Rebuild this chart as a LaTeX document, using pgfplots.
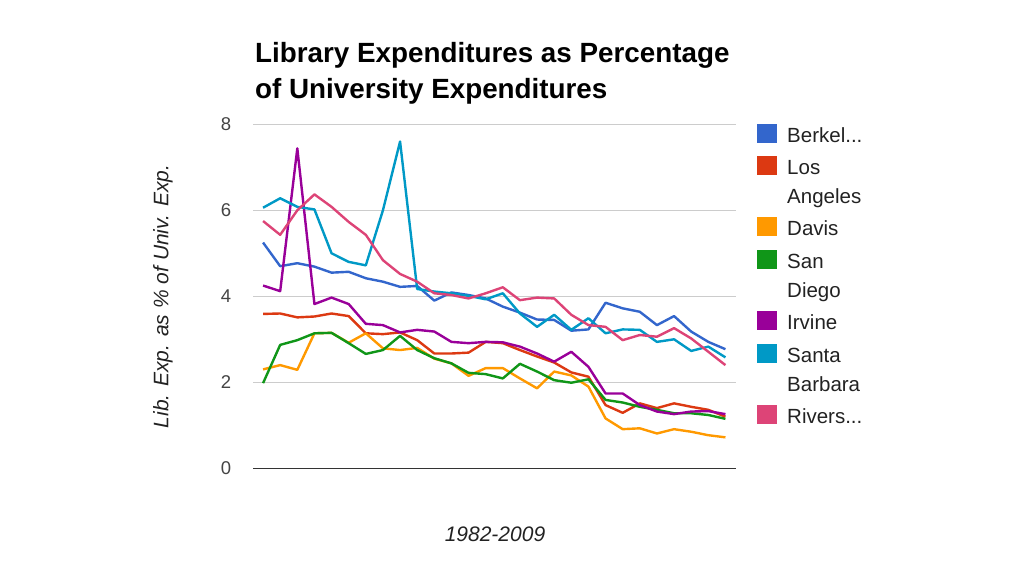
\documentclass[border=0pt]{standalone}
\usepackage{fontspec}
\setmainfont{Liberation Sans}
\usepackage{pgfplots}
\pgfplotsset{compat=1.18}
\usepackage{pgfplotstable}
\definecolor{cBer}{HTML}{3366CC}
\definecolor{cLA}{HTML}{DC3912}
\definecolor{cDav}{HTML}{FF9900}
\definecolor{cSD}{HTML}{109618}
\definecolor{cIrv}{HTML}{990099}
\definecolor{cSB}{HTML}{0099C6}
\definecolor{cRiv}{HTML}{DD4477}
\definecolor{tickgray}{HTML}{444444}
\definecolor{labgray}{HTML}{222222}
\pgfplotstableread{
i ber la dav sd irv sb riv
0 5.25 3.59 2.30 1.98 4.25 6.06 5.75
1 4.70 3.60 2.40 2.87 4.12 6.28 5.43
2 4.77 3.51 2.29 2.98 7.44 6.08 6.00
3 4.69 3.53 3.14 3.14 3.82 6.02 6.37
4 4.55 3.60 3.15 3.15 3.97 5.00 6.08
5 4.57 3.54 2.92 2.91 3.82 4.80 5.73
6 4.42 3.14 3.14 2.66 3.36 4.72 5.43
7 4.34 3.12 2.79 2.75 3.33 6.00 4.84
8 4.22 3.16 2.75 3.08 3.16 7.60 4.52
9 4.24 2.98 2.80 2.75 3.22 4.17 4.34
10 3.90 2.67 2.55 2.56 3.18 4.11 4.07
11 4.09 2.67 2.44 2.44 2.94 4.07 4.03
12 4.03 2.69 2.15 2.22 2.91 4.01 3.95
13 3.95 2.94 2.33 2.19 2.94 3.93 4.07
14 3.76 2.91 2.33 2.09 2.93 4.07 4.21
15 3.62 2.75 2.09 2.43 2.83 3.60 3.91
16 3.46 2.60 1.86 2.25 2.67 3.29 3.97
17 3.45 2.46 2.25 2.05 2.48 3.57 3.95
18 3.20 2.23 2.16 1.99 2.71 3.22 3.57
19 3.23 2.13 1.90 2.07 2.36 3.49 3.33
20 3.85 1.47 1.16 1.59 1.74 3.14 3.29
21 3.72 1.29 0.91 1.53 1.74 3.23 2.98
22 3.64 1.51 0.93 1.43 1.47 3.22 3.10
23 3.33 1.40 0.81 1.36 1.32 2.94 3.06
24 3.54 1.51 0.91 1.28 1.26 3.00 3.26
25 3.18 1.43 0.85 1.28 1.32 2.73 3.02
26 2.94 1.36 0.77 1.24 1.33 2.83 2.71
27 2.77 1.20 0.72 1.15 1.26 2.58 2.40
}\data
\newcommand{\lt}[1]{\rule{0pt}{18.5pt}#1\rule[-6pt]{0pt}{6pt}}
\newcommand{\lc}[1]{\rule{0pt}{11pt}#1\rule[-6pt]{0pt}{6pt}}
\begin{document}
\begin{tikzpicture}
\path[use as bounding box] (0pt,0pt) rectangle (1024pt,576pt);
\begin{axis}[
  at={(253.3pt,107.7pt)}, anchor=south west,
  scale only axis, width=482.4pt, height=344pt,
  xmin=-0.57, xmax=27.6, ymin=0, ymax=8,
  xtick=\empty, ytick={2,4,6,8},
  axis line style={draw=none},
  major tick length=0pt,
  ymajorgrids,
  grid style={color=black!20, line width=1pt},
  extra y ticks={0},
  extra y tick style={grid style={color=black!80, line width=1.6pt}},
  yticklabel style={font=\fontsize{18.5}{20}\selectfont, text=tickgray, anchor=east, inner sep=0pt, xshift=-22pt},
  /pgf/number format/assume math mode=true,
  every axis plot/.append style={line width=2.4pt, line join=round},
  legend cell align=left,
  legend image code/.code={\fill[#1, draw=none] (0pt,-9pt) rectangle (20pt,10pt);},
  legend style={at={(1,1)}, anchor=north west, xshift=21.3pt, yshift=1.0pt,
    draw=none, fill=none, inner sep=0pt, row sep=12.5pt, column sep=10pt,
    nodes={inner sep=0pt, text=labgray, font=\fontsize{20.5}{24}\selectfont}},
]
\addplot[cBer] table[x=i,y=ber]{\data}; \addlegendentry{\lt{Berkel...}}
\addplot[cLA] table[x=i,y=la]{\data}; \addlegendentry{\lt{Los}}
\addlegendimage{empty legend}\addlegendentry{\lc{Angeles}}
\addplot[cDav] table[x=i,y=dav]{\data}; \addlegendentry{\lt{Davis}}
\addplot[cSD] table[x=i,y=sd]{\data}; \addlegendentry{\lt{San}}
\addlegendimage{empty legend}\addlegendentry{\lc{Diego}}
\addplot[cIrv] table[x=i,y=irv]{\data}; \addlegendentry{\lt{Irvine}}
\addplot[cSB] table[x=i,y=sb]{\data}; \addlegendentry{\lt{Santa}}
\addlegendimage{empty legend}\addlegendentry{\lc{Barbara}}
\addplot[cRiv] table[x=i,y=riv]{\data}; \addlegendentry{\lt{Rivers...}}
\end{axis}
\node[anchor=base west, inner sep=0pt, font=\fontsize{27.8}{34}\selectfont\bfseries] at (255pt,513.7pt) {Library Expenditures as Percentage};
\node[anchor=base west, inner sep=0pt, font=\fontsize{27.8}{34}\selectfont\bfseries] at (255pt,477.7pt) {of University Expenditures};
\node[anchor=base, inner sep=0pt, text=labgray, font=\fontsize{21}{24}\selectfont\itshape] at (495pt,34.3pt) {1982-2009};
\node[rotate=90, anchor=center, inner sep=0pt, text=labgray, font=\fontsize{21}{24}\selectfont\itshape] at (163pt,279.5pt) {Lib. Exp. as \% of Univ. Exp.};
\end{tikzpicture}
\end{document}
